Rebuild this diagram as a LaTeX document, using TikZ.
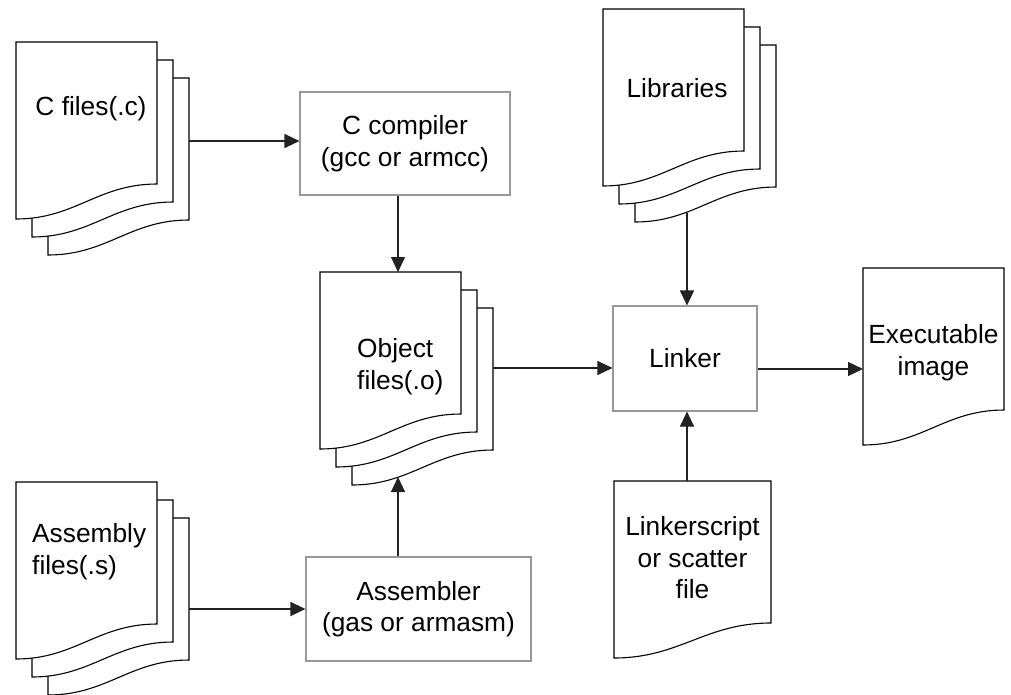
\documentclass[tikz,border=0pt]{standalone}
\usepackage{fontspec}
\setmainfont{Liberation Sans}
\usetikzlibrary{arrows.meta}
\definecolor{boxgray}{HTML}{999999}
\definecolor{linegray}{HTML}{222222}
\newcommand{\figfont}{\fontsize{26.3}{31.5}\selectfont}
% page shape: x y w h (top-left corner, width, height)
\newcommand{\mydocpage}[4]{%
  \filldraw[page] (#1,#2) -- ++(#3,0) -- ++(0,#4-35)
    .. controls +(-0.42*#3,0) and +(0.42*#3,0) .. (#1,#2+#4) -- cycle;
}
\tikzset{
  page/.style={draw=black, fill=white, line width=1.1pt, line join=miter},
  procbox/.style={draw=boxgray, fill=white, line width=1.1pt, inner sep=0pt,
    align=center, font=\figfont},
  lbl/.style={inner sep=0pt, font=\figfont},
  arr/.style={draw=linegray, line width=1.1pt, -{Triangle[length=15pt,width=14pt]}}
}
\begin{document}
\begin{tikzpicture}[x=1pt,y=-1pt]
\useasboundingbox[fill=white] (0,0) rectangle (1011,694);

% C files stack
\mydocpage{48}{78}{141}{177}
\mydocpage{32}{60}{141}{177}
\mydocpage{16}{42}{141}{177}
\node[lbl, anchor=base] (cftext) at (91,115) {C files(.c)};

% Assembly files stack
\mydocpage{48}{518}{141}{177}
\mydocpage{32}{500}{141}{177}
\mydocpage{16}{482}{141}{177}
\node[lbl, anchor=north west, align=left] (astext) at (32,523.4) {Assembly\\files(.s)};

% Object files stack
\mydocpage{352}{308}{141}{177}
\mydocpage{336}{290}{141}{177}
\mydocpage{320}{272}{141}{177}
\node[lbl, anchor=north west, align=left] (objtext) at (357,338.4) {Object\\files(.o)};

% Libraries stack
\mydocpage{635}{45}{141}{177}
\mydocpage{619}{27}{141}{177}
\mydocpage{603}{9}{141}{177}
\node[lbl, anchor=base] (libtext) at (677,97) {Libraries};

% Executable image
\mydocpage{863}{268}{141}{177}
\node[lbl, anchor=north, align=center] (exetext) at (933.5,324.4) {Executable\\image};

% Linkerscript
\mydocpage{614}{481}{157}{177}
\node[lbl, anchor=north, align=center] (lstext) at (692.5,516.4) {Linkerscript\\or scatter\\file};

% Process boxes
\node[procbox, minimum width=210pt, minimum height=103pt] (ccomp) at (405,143.5) {C compiler\\(gcc or armcc)};
\node[procbox, minimum width=225pt, minimum height=104pt] (asm) at (418.5,609) {Assembler\\(gas or armasm)};
\node[procbox, minimum width=144pt, minimum height=105pt] (linker) at (685,358.5) {Linker};

% Connector end points on the document shapes
\coordinate (cfout) at (189,141);
\coordinate (objin) at (398,272);
\coordinate (objbot) at (398,477);
\coordinate (asmout) at (189,609);
\coordinate (objout) at (493,368);
\coordinate (libout) at (687,213);
\coordinate (lsin) at (687,481);
\coordinate (exein) at (863,369);

% Connectors
\draw[arr] (cfout) -- (cfout -| ccomp.west);
\draw[arr] (ccomp.south -| objin) -- (objin);
\draw[arr] (asm.north -| objbot) -- (objbot);
\draw[arr] (asmout) -- (asmout -| asm.west);
\draw[arr] (objout) -- (objout -| linker.west);
\draw[arr] (libout) -- (libout |- linker.north);
\draw[arr] (lsin) -- (lsin |- linker.south);
\draw[arr] (exein -| linker.east) -- (exein);
\end{tikzpicture}
\end{document}
